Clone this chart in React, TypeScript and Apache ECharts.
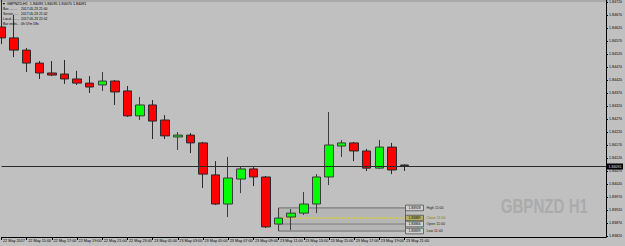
import React, { useEffect, useRef } from "react";
import * as echarts from "echarts";

// ---- data ----
const categories = [
  "22 May 13:00", "22 May 14:00", "22 May 15:00", "22 May 16:00", "22 May 17:00",
  "22 May 18:00", "22 May 19:00", "22 May 20:00", "22 May 21:00", "22 May 22:00",
  "22 May 23:00", "23 May 00:00", "23 May 01:00", "23 May 02:00", "23 May 03:00",
  "23 May 04:00", "23 May 05:00", "23 May 06:00", "23 May 07:00", "23 May 08:00",
  "23 May 09:00", "23 May 10:00", "23 May 11:00", "23 May 12:00", "23 May 13:00",
  "23 May 14:00", "23 May 15:00", "23 May 16:00", "23 May 17:00", "23 May 18:00",
  "23 May 19:00", "23 May 20:00", "23 May 21:00", "23 May 22:00", "23 May 23:00",
  "24 May 00:00", "24 May 01:00", "24 May 02:00", "24 May 03:00", "24 May 04:00",
  "24 May 05:00", "24 May 06:00", "24 May 07:00", "24 May 08:00", "24 May 09:00",
  "24 May 10:00", "24 May 11:00", "24 May 12:00", "24 May 13:00",
];
const lastLabelIndex = 32;
const firstLabel = "22 May 2017";

const opens = [1.84624, 1.84582, 1.84535, 1.84485, 1.84447, 1.84443, 1.84424, 1.84408, 1.84401, 1.84416, 1.84378, 1.84282, 1.84324, 1.84266, 1.84201, 1.84208, 1.84178, 1.84055, 1.83943, 1.84039, 1.84078, 1.84047, 1.83866, 1.83893, 1.83908, 1.83943, 1.84047, 1.84166, 1.84178, 1.84147, 1.84081, 1.84162, 1.84093];
const closes = [1.84582, 1.84535, 1.84485, 1.84447, 1.84439, 1.84424, 1.84408, 1.84393, 1.84416, 1.84374, 1.84282, 1.84324, 1.84262, 1.84205, 1.84208, 1.84178, 1.84058, 1.83943, 1.84043, 1.84078, 1.84047, 1.83855, 1.83889, 1.83908, 1.83943, 1.84047, 1.84170, 1.84178, 1.84147, 1.84081, 1.84162, 1.84074, 1.84091];
const lows = [1.84558, 1.84508, 1.84451, 1.84424, 1.84435, 1.84405, 1.84401, 1.84370, 1.84378, 1.84324, 1.84278, 1.84266, 1.84193, 1.84193, 1.84151, 1.84139, 1.84005, 1.83939, 1.83893, 1.83985, 1.84012, 1.83851, 1.83839, 1.83843, 1.83901, 1.83908, 1.84016, 1.84124, 1.84108, 1.84070, 1.84078, 1.84058, 1.84070];
const highs = [1.84740, 1.84670, 1.84543, 1.84493, 1.84493, 1.84497, 1.84455, 1.84435, 1.84451, 1.84420, 1.84397, 1.84355, 1.84343, 1.84285, 1.84220, 1.84216, 1.84182, 1.84108, 1.84124, 1.84089, 1.84085, 1.84051, 1.83928, 1.83924, 1.83989, 1.84058, 1.84297, 1.84189, 1.84182, 1.84155, 1.84189, 1.84178, 1.84095];

const priceTicks = [1.8472, 1.8467, 1.8462, 1.8457, 1.8452, 1.8447, 1.8442, 1.8437, 1.8432, 1.8427, 1.8422, 1.8417, 1.8412, 1.8407, 1.8402, 1.8397, 1.8392, 1.8387, 1.8382];
const yMin = 1.8381615;
const yMax = 1.847277;
const currentPrice = 1.84091;

const refBar = 22; // 23 May 11:00
const refEndBar = 32;
const refLabels = ["High 11:00", "Close 11:00", "Open 11:00", "Low 11:00"];

const headerText = "▼ GBPNZD,H1  1.84093 1.84095 1.84070 1.84091";
const infoKeys = ["Bar..........", "Server......", "Local........", "Bar ends..."];
const infoValues = ["2017.05.23 21:00", "2017.05.23 21:02", "2017.05.23 22:02", "0h 57m 58s"];
const watermark = "GBPNZD H1";

const FONT = "Liberation Sans";

export default function App() {
  const ref = useRef<HTMLDivElement>(null);
  useEffect(() => {
    if (!ref.current) return;
    const chart = echarts.init(ref.current, null, { renderer: "svg" });
    const candleData = opens.map((o, i) => [o, closes[i], lows[i], highs[i]]);
    const refVals = [highs[refBar], closes[refBar], opens[refBar], lows[refBar]];

    const showIdx = (idx: number) => idx % 2 === 0 && idx <= lastLabelIndex;

    const graphics: any[] = [
      { type: "rect", z: 0, shape: { x: 0, y: 0, width: 608, height: 2 }, style: { fill: "#a9a9a9" } },
      {
        type: "text", z: 1, x: 588, y: 216, scaleX: 0.72,
        style: { text: watermark, align: "right", verticalAlign: "bottom", font: `bold 21px '${FONT}'`, fill: "#ababab" },
      },
      {
        type: "text", z: 100, x: 2, y: 2,
        style: { text: headerText, font: `3.7px '${FONT}'`, fill: "#000", verticalAlign: "top" },
      },
    ];
    infoKeys.forEach((k, i) => {
      graphics.push({
        type: "text", z: 100, x: 3, y: 7.5 + i * 5,
        style: { text: k, font: `3.4px '${FONT}'`, fill: "#000", verticalAlign: "top" },
      });
      graphics.push({
        type: "text", z: 100, x: 21, y: 7.5 + i * 5,
        style: { text: infoValues[i], font: `3.4px '${FONT}'`, fill: "#000", verticalAlign: "top" },
      });
    });

    const option: any = {
      animation: false,
      backgroundColor: "#c0c0c0",
      grid: { left: 0, right: 17, top: 0, bottom: 9 },
      graphic: graphics,
      xAxis: {
        type: "category",
        data: categories,
        boundaryGap: false,
        axisLine: { show: true, lineStyle: { color: "#000", width: 1 } },
        axisTick: { show: true, length: 3, interval: (idx: number) => showIdx(idx), lineStyle: { color: "#000" } },
        axisLabel: {
          interval: (idx: number) => showIdx(idx),
          formatter: (v: string, idx: number) => (idx === 0 ? firstLabel : v),
          align: "left",
          margin: 1.5,
          fontSize: 3.8,
          fontFamily: FONT,
          color: "#000",
          padding: [0, 0, 0, 1.5],
        },
        splitLine: { show: false },
      },
      yAxis: {
        type: "value",
        position: "right",
        min: yMin,
        max: yMax,
        scale: true,
        axisLine: { show: true, lineStyle: { color: "#000", width: 1 } },
        axisTick: { show: true, length: 2, customValues: priceTicks, lineStyle: { color: "#000" } },
        axisLabel: {
          customValues: priceTicks,
          formatter: (v: number) => v.toFixed(5),
          margin: 3,
          fontSize: 3.6,
          fontFamily: FONT,
          color: "#000",
        },
        splitLine: { show: false },
      },
      series: [
        {
          type: "custom",
          z: 1,
          silent: true,
          clip: false,
          data: [[refBar, refVals[0]]],
          encode: { x: 0, y: 1 },
          renderItem: (params: any, api: any) => {
            const x0 = api.coord([refBar, refVals[0]])[0];
            const x1 = api.coord([refEndBar, refVals[0]])[0] + 1;
            const ys = refVals.map((v) => api.coord([refBar, v])[1]);
            const children: any[] = [
              {
                type: "rect",
                shape: { x: x0, y: ys[0], width: x1 - x0, height: ys[3] - ys[0] },
                style: { fill: "rgba(0,0,0,0.05)", stroke: "#6e6e6e", lineWidth: 1 },
              },
              {
                type: "line",
                shape: { x1: x0, y1: ys[1], x2: x1, y2: ys[1] },
                style: { stroke: "#e8d800", lineWidth: 1, lineDash: [2, 1] },
              },
              {
                type: "line",
                shape: { x1: x0, y1: ys[2], x2: x1, y2: ys[2] },
                style: { stroke: "#404040", lineWidth: 1, lineDash: [1, 1] },
              },
            ];
            refVals.forEach((v, i) => {
              const isClose = i === 1;
              children.push({
                type: "rect",
                shape: { x: x1, y: ys[i] - 2.8, width: 18, height: 5.6 },
                style: { fill: isClose ? "#b8b060" : "#d0d0d0", stroke: "#505050", lineWidth: 0.8 },
              });
              children.push({
                type: "text",
                x: x1 + 9, y: ys[i],
                style: { text: v.toFixed(5), font: `3.4px '${FONT}'`, fill: "#000", align: "center", verticalAlign: "middle" },
              });
              children.push({
                type: "text",
                x: x1 + 21, y: ys[i],
                style: { text: refLabels[i], font: `3.6px '${FONT}'`, fill: isClose ? "#8a7c00" : "#202020", verticalAlign: "middle" },
              });
            });
            return { type: "group", children };
          },
        },
        {
          type: "candlestick",
          z: 3,
          data: candleData,
          barWidth: 9,
          clip: true,
          itemStyle: {
            color: "#00ff00",
            color0: "#ff0000",
            borderColor: "#3c3c3c",
            borderColor0: "#2a2a2a",
            borderWidth: 1,
          },
        },
        {
          type: "custom",
          z: 5,
          silent: true,
          clip: false,
          data: [[0, currentPrice]],
          encode: { x: 0, y: 1 },
          renderItem: (params: any, api: any) => {
            const y = Math.round(api.coord([0, currentPrice])[1]) + 0.5;
            const left = params.coordSys.x;
            const right = params.coordSys.x + params.coordSys.width;
            return {
              type: "group",
              children: [
                {
                  type: "line",
                  shape: { x1: left, y1: y, x2: right, y2: y },
                  style: { stroke: "#2a2a2a", lineWidth: 1 },
                },
                {
                  type: "rect",
                  shape: { x: right + 1, y: y - 3, width: 16, height: 6 },
                  style: { fill: "#000" },
                },
                {
                  type: "text",
                  x: right + 2.5, y: y,
                  style: { text: currentPrice.toFixed(5), font: `3.6px '${FONT}'`, fill: "#e0e0e0", verticalAlign: "middle" },
                },
              ],
            };
          },
        },
      ],
    };
    chart.setOption(option);
    return () => chart.dispose();
  }, []);
  return (
    <div
      ref={ref}
      style={{ position: "fixed", left: 0, top: 0, width: 625, height: 246 }}
    />
  );
}
